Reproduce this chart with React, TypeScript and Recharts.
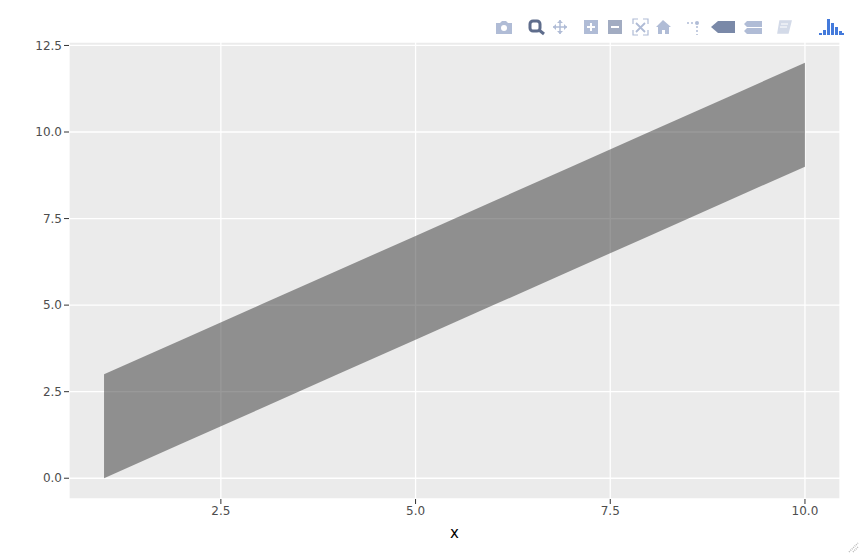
import { Area, CartesianGrid, ComposedChart, XAxis, YAxis } from "recharts"

const xValues = [1, 2, 3, 4, 5, 6, 7, 8, 9, 10]
const lower = [0, 1, 2, 3, 4, 5, 6, 7, 8, 9]
const upper = [3, 4, 5, 6, 7, 8, 9, 10, 11, 12]
const xTicks = [2.5, 5, 7.5, 10]
const yTicks = [0, 2.5, 5, 7.5, 10, 12.5]

const data = xValues.map((x, i) => ({ x, band: [lower[i], upper[i]] }))

const FONT = "'DejaVu Sans', Verdana, sans-serif"
const icon = "#b0bcd6"
const iconDark = "#7a89a8"

// plotly modebar, purely decorative
function Modebar() {
  return (
    <svg width={860} height={554} style={{ position: "absolute", left: 0, top: 0, pointerEvents: "none" }}>
      {/* camera */}
      <path d="M496 23h4l2-2h4l2 2h4v11h-16z" fill={icon} />
      <circle cx={504} cy={28} r={3} fill="#fff" />
      {/* zoom */}
      <rect x={530} y={21} width={10} height={10} rx={3} fill="none" stroke="#5f6d8c" strokeWidth={3} />
      <path d="M539 30l5 4" stroke="#5f6d8c" strokeWidth={3} />
      {/* pan */}
      <path d="M553 27h14M560 20v14" stroke={icon} strokeWidth={1.5} />
      <path d="M553 27l3-3v6zM567 27l-3-3v6zM560 20l-3 3h6zM560 34l-3-3h6z" fill={icon} />
      {/* plus, minus */}
      <rect x={584} y={20} width={14} height={14} fill={icon} />
      <path d="M587 27h8M591 23v8" stroke="#fff" strokeWidth={2} />
      <rect x={608} y={20} width={14} height={14} fill={iconDark} opacity={0.7} />
      <path d="M611 27h8" stroke="#fff" strokeWidth={2} />
      {/* autoscale */}
      <path d="M633 24v-5h5M643 19h5v5M648 30v5h-5M638 35h-5v-5" fill="none" stroke={icon} strokeWidth={1.2} />
      <path d="M636 23l9 9M645 23l-9 9" fill="none" stroke={icon} strokeWidth={1.8} />
      {/* home */}
      <path d="M656 27l7-7 8 7h-2v7h-4v-4h-3v4h-4v-7z" fill={icon} />
      {/* spikes */}
      <circle cx={697} cy={23} r={2} fill={icon} />
      <path d="M687 23h7M697 26v9" stroke={icon} strokeWidth={1.5} strokeDasharray="2 2" />
      {/* hover closest */}
      <path d="M711 27l7-6h17v12h-17z" fill={iconDark} />
      {/* hover compare */}
      <path d="M747 21h15v6h-15l-3-3zM747 28h15v6h-15l-3-3z" fill={icon} />
      {/* docs */}
      <path d="M780 21h11l-3 12h-10z" fill={icon} opacity={0.55} stroke={icon} strokeWidth={1.5} />
      <path d="M781 24h7M780 27h7" stroke="#fff" />
      {/* logo */}
      <g fill="#447adb">
        <rect x={819} y={33} width={3} height={2} />
        <rect x={823} y={30} width={3} height={5} />
        <rect x={827} y={19} width={3} height={16} />
        <rect x={831} y={23} width={3} height={12} />
        <rect x={835} y={27} width={3} height={8} />
        <rect x={839} y={31} width={3} height={4} />
        <rect x={842} y={33} width={2} height={2} />
      </g>
      {/* resize handle */}
      <path d="M849 552l9-9M853 552l5-5" stroke="#bbb" strokeWidth={1.5} strokeDasharray="1 1" />
    </svg>
  )
}

export default function App() {
  return (
    <div style={{ position: "absolute", left: 0, top: 0, width: 860, height: 554 }}>
      <ComposedChart
        width={860}
        height={554}
        data={data}
        margin={{ top: 42, right: 20, bottom: 25, left: 0 }}
      >
        <CartesianGrid fill="#ebebeb" stroke="#ffffff" strokeWidth={1.3} />
        <XAxis
          dataKey="x"
          type="number"
          domain={[0.55, 10.45]}
          ticks={xTicks}
          tickFormatter={(v: number) => v.toFixed(1)}
          axisLine={false}
          tickLine={{ stroke: "#333333" }}
          tickSize={5}
          height={30}
          tick={{ fill: "#4d4d4d", fontSize: 12, fontFamily: FONT }}
          label={{ value: "x", position: "insideBottom", offset: -9, fill: "#000", fontSize: 15, fontFamily: FONT }}
        />
        <YAxis
          type="number"
          width={69}
          domain={[-0.6, 12.6]}
          ticks={yTicks}
          tickFormatter={(v: number) => v.toFixed(1)}
          axisLine={false}
          tickLine={{ stroke: "#333333" }}
          tickSize={5}
          tick={{ fill: "#4d4d4d", fontSize: 12, fontFamily: FONT }}
        />
        <Area
          dataKey="band"
          type="linear"
          fill="#333333"
          fillOpacity={0.5}
          stroke="none"
          isAnimationActive={false}
          dot={false}
          activeDot={false}
        />
      </ComposedChart>
      <Modebar />
    </div>
  )
}
